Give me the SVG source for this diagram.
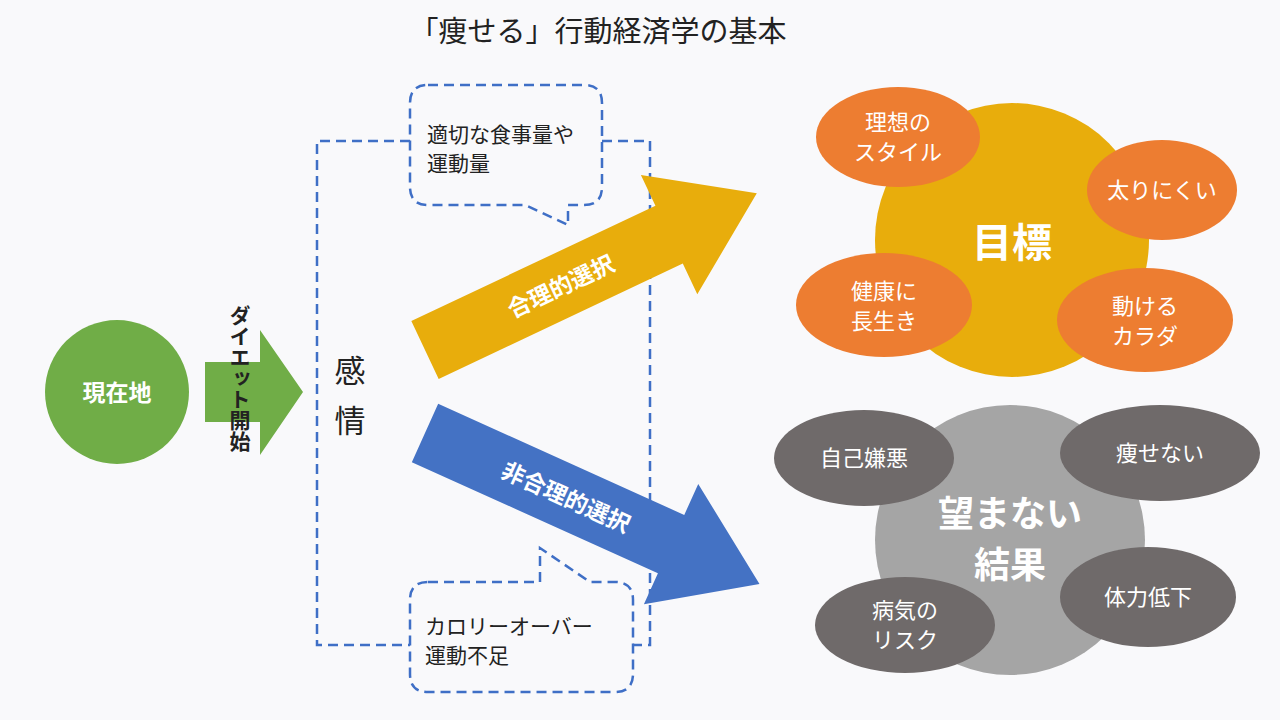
<svg xmlns="http://www.w3.org/2000/svg" width="1280" height="720" viewBox="0 0 1280 720">
<style>
text{font-family:"Noto Sans CJK JP","Noto Sans",sans-serif;}
.dash{fill:none;stroke:#3f6fc6;stroke-width:2.5;stroke-dasharray:10,6}
.w{fill:#fff;text-anchor:middle}
.k{fill:#222}
</style>
<rect width="1280" height="720" fill="#f9f9fb"/>
<text x="598" y="42" font-size="29" text-anchor="middle" class="k">「痩せる」行動経済学の基本</text>
<g id="connectors">
<path class="dash" d="M410,141 H317 V645 H410 M602,141 H650 V645 H633"/>
<polygon points="205,362 260,362 260,330 303,392 260,455 260,422 205,422" fill="#70ad47"/>
<g transform="translate(425,350) rotate(-25.3)">
<polygon points="0,-32 270,-32 270,-66 367,0 270,66 270,32 0,32" fill="#e8ad0c"/>
<text x="150" y="9" font-size="23" font-weight="bold" class="w">合理的選択</text>
</g>
<g transform="translate(425,433) rotate(24.3)">
<polygon points="0,-32 270,-32 270,-66 367,0 270,66 270,32 0,32" fill="#4472c4"/>
<text x="155" y="9" font-size="23" font-weight="bold" class="w">非合理的選択</text>
</g>
</g>
<g id="genzai"><circle cx="117" cy="392" r="72" fill="#70ad47"/><text x="117" y="401" font-size="23" font-weight="bold" class="w">現在地</text></g>
<g id="diet"><text x="240" y="305" font-size="21" font-weight="bold" class="k" style="writing-mode:vertical-rl">ダイエット開始</text></g>
<g id="kanjo"><text x="350" y="382" font-size="31" class="k" text-anchor="middle">感</text><text x="350" y="432" font-size="31" class="k" text-anchor="middle">情</text></g>
<g id="bubble1">
<path class="dash" d="M428,85 H584 Q602,85 602,103 V187 Q602,205 584,205 H568 V225 L525,205 H428 Q410,205 410,187 V103 Q410,85 428,85 Z" fill="#f9f9fb"/>
<text x="427" y="142" font-size="21" class="k">適切な食事量や</text>
<text x="427" y="171" font-size="21" class="k">運動量</text>
</g>
<g id="bubble2">
<path class="dash" d="M428,582 H540 V548 L590,582 H615 Q633,582 633,600 V674 Q633,692 615,692 H428 Q410,692 410,674 V600 Q410,582 428,582 Z" fill="#f9f9fb"/>
<text x="425" y="634" font-size="21" class="k">カロリーオーバー</text>
<text x="425" y="663" font-size="21" class="k">運動不足</text>
</g>
<g id="mokuhyo">
<circle cx="1012" cy="240" r="137" fill="#e8ad0c"/>
<text x="1012" y="257" font-size="40" font-weight="bold" class="w">目標</text>
</g>
<g id="o1"><ellipse cx="898" cy="137" rx="82" ry="50" fill="#ed7d31"/><text x="898" y="130" font-size="22" class="w">理想の</text><text x="898" y="160" font-size="22" class="w">スタイル</text></g>
<g id="o2"><ellipse cx="1162" cy="190" rx="75" ry="50" fill="#ed7d31"/><text x="1162" y="198" font-size="22" class="w">太りにくい</text></g>
<g id="o3"><ellipse cx="884" cy="305" rx="88" ry="52" fill="#ed7d31"/><text x="884" y="299" font-size="22" class="w">健康に</text><text x="884" y="329" font-size="22" class="w">長生き</text></g>
<g id="o4"><ellipse cx="1145" cy="320" rx="88" ry="52" fill="#ed7d31"/><text x="1145" y="314" font-size="22" class="w">動ける</text><text x="1145" y="344" font-size="22" class="w">カラダ</text></g>
<g id="nozomanai">
<circle cx="1010" cy="540" r="135" fill="#a5a5a5"/>
<text x="1010" y="527" font-size="36" font-weight="bold" class="w">望まない</text>
<text x="1010" y="578" font-size="36" font-weight="bold" class="w">結果</text>
</g>
<g id="g1"><ellipse cx="864" cy="458" rx="90" ry="48" fill="#6f6a6a"/><text x="864" y="466" font-size="22" class="w">自己嫌悪</text></g>
<g id="g2"><ellipse cx="1160" cy="453" rx="100" ry="48" fill="#6f6a6a"/><text x="1160" y="461" font-size="22" class="w">痩せない</text></g>
<g id="g3"><ellipse cx="905" cy="625" rx="90" ry="48" fill="#6f6a6a"/><text x="905" y="618" font-size="22" class="w">病気の</text><text x="905" y="648" font-size="22" class="w">リスク</text></g>
<g id="g4"><ellipse cx="1148" cy="597" rx="88" ry="50" fill="#6f6a6a"/><text x="1148" y="605" font-size="22" class="w">体力低下</text></g>
</svg>
